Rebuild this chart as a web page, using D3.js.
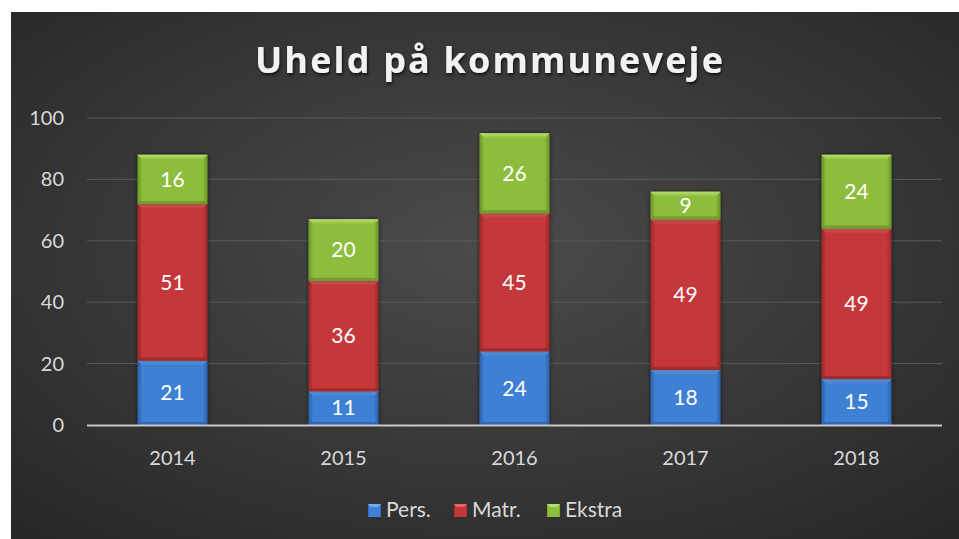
<!DOCTYPE html>
<html>
<head>
<meta charset="utf-8">
<script src="https://cdn.jsdelivr.net/npm/d3@7"></script>
<style>
body { margin: 0; background: #fff; }
svg { display: block; }
text { font-family: Lato, "Open Sans", sans-serif; }
</style>
</head>
<body>
<svg width="959" height="539"></svg>
<script>
var years = ["2014", "2015", "2016", "2017", "2018"];
var pers = [21, 11, 24, 18, 15];
var matr = [51, 36, 45, 49, 49];
var ekstra = [16, 20, 26, 9, 24];
var yTicks = [0, 20, 40, 60, 80, 100];
var seriesNames = ["Pers.", "Matr.", "Ekstra"];

var svg = d3.select("svg"),
	width = +svg.attr("width"),
	height = +svg.attr("height");

var colors = {
	"Pers.": { base: "#3e80d4", light: "#72acf0", dark: "#2a5fa6" },
	"Matr.": { base: "#c4383a", light: "#e4676a", dark: "#982527" },
	"Ekstra": { base: "#8dbd3c", light: "#b8de70", dark: "#6a9326" }
};

var defs = svg.append("defs");

var bg = defs.append("radialGradient")
	.attr("id", "bg")
	.attr("cx", "0.5").attr("cy", "0.45").attr("r", "0.75");
bg.append("stop").attr("offset", "0").attr("stop-color", "#4b4b4b");
bg.append("stop").attr("offset", "1").attr("stop-color", "#262626");

var shadow = defs.append("filter").attr("id", "shadow")
	.attr("x", "-20%").attr("y", "-20%").attr("width", "140%").attr("height", "140%");
shadow.append("feDropShadow")
	.attr("dx", 0).attr("dy", 0).attr("stdDeviation", 2)
	.attr("flood-color", "#000").attr("flood-opacity", 0.6);

var tshadow = defs.append("filter").attr("id", "tshadow")
	.attr("x", "-10%").attr("y", "-30%").attr("width", "120%").attr("height", "160%");
tshadow.append("feDropShadow")
	.attr("dx", 1).attr("dy", 2).attr("stdDeviation", 1.5)
	.attr("flood-color", "#000").attr("flood-opacity", 0.7);

seriesNames.forEach(function(s, i) {
	var g = defs.append("linearGradient").attr("id", "grad" + i)
		.attr("x1", 0).attr("x2", 1).attr("y1", 0).attr("y2", 0);
	g.append("stop").attr("offset", "0").attr("stop-color", colors[s].dark);
	g.append("stop").attr("offset", "0.07").attr("stop-color", colors[s].base);
	g.append("stop").attr("offset", "0.93").attr("stop-color", colors[s].base);
	g.append("stop").attr("offset", "1").attr("stop-color", colors[s].dark);
	var t = defs.append("linearGradient").attr("id", "top" + i)
		.attr("x1", 0).attr("x2", 0).attr("y1", 0).attr("y2", 1);
	t.append("stop").attr("offset", "0").attr("stop-color", colors[s].light);
	t.append("stop").attr("offset", "1").attr("stop-color", colors[s].base);
});

// chart background
svg.append("rect")
	.attr("x", 11).attr("y", 12)
	.attr("width", width - 11).attr("height", height - 12)
	.attr("fill", "url(#bg)");

var margin = { left: 87, right: 17 };

var x = d3.scaleBand()
	.domain(years)
	.range([margin.left, width - margin.right])
	.paddingInner(0.59)
	.paddingOuter(0.295);

var y = d3.scaleLinear()
	.domain([0, 100])
	.range([425, 118]);

// gridlines
svg.append("g")
	.selectAll("line")
	.data(yTicks.filter(function(d) { return d > 0; }))
	.enter().append("line")
	.attr("x1", margin.left).attr("x2", width - margin.right)
	.attr("y1", function(d) { return y(d); })
	.attr("y2", function(d) { return y(d); })
	.attr("stroke", "#5a5a5a")
	.attr("stroke-width", 1);

// y labels
var yAxis = svg.append("g")
	.attr("transform", "translate(" + (margin.left - 23) + ",0)")
	.call(d3.axisLeft(y).tickValues(yTicks).tickSize(0).tickPadding(0));
yAxis.select(".domain").remove();
yAxis.selectAll("text")
	.attr("fill", "#d9d9d9")
	.style("font-size", "20px")
	.style("font-family", "Lato, 'Open Sans', sans-serif");

// stacked data
var table = years.map(function(yr, i) {
	return { year: yr, "Pers.": pers[i], "Matr.": matr[i], "Ekstra": ekstra[i] };
});
var stack = d3.stack().keys(seriesNames)(table);

var bars = svg.append("g");
stack.forEach(function(layer, si) {
	var s = seriesNames[si];
	var g = bars.append("g");
	var seg = g.selectAll("g")
		.data(layer)
		.enter().append("g")
		.attr("transform", function(d) {
			return "translate(" + x(d.data.year) + "," + y(d[1]) + ")";
		});
	seg.append("rect")
		.attr("width", x.bandwidth())
		.attr("height", function(d) { return y(d[0]) - y(d[1]); })
		.attr("fill", "url(#grad" + si + ")")
		.attr("filter", "url(#shadow)");
	// top bevel
	seg.append("path")
		.attr("d", function(d) {
			var w = x.bandwidth(), b = 5;
			return "M0,0L" + w + ",0L" + (w - b) + "," + b + "L" + b + "," + b + "Z";
		})
		.attr("fill", "url(#top" + si + ")");
	// bottom bevel
	seg.append("path")
		.attr("d", function(d) {
			var w = x.bandwidth(), b = 3, h = y(d[0]) - y(d[1]);
			return "M0," + h + "L" + w + "," + h + "L" + (w - b) + "," + (h - b) + "L" + b + "," + (h - b) + "Z";
		})
		.attr("fill", colors[s].dark)
		.attr("opacity", 0.7);
	seg.append("text")
		.attr("x", x.bandwidth() / 2)
		.attr("y", function(d) { return (y(d[0]) - y(d[1])) / 2; })
		.attr("dy", "0.35em")
		.attr("text-anchor", "middle")
		.attr("fill", "#fff")
		.style("font-size", "21px")
		.text(function(d) { return d[1] - d[0]; });
});

// x axis
svg.append("line")
	.attr("x1", margin.left).attr("x2", width - margin.right)
	.attr("y1", 425.5).attr("y2", 425.5)
	.attr("stroke", "#c8c8c8")
	.attr("stroke-width", 2);

svg.append("g")
	.selectAll("text")
	.data(years)
	.enter().append("text")
	.attr("x", function(d) { return x(d) + x.bandwidth() / 2; })
	.attr("y", 465)
	.attr("text-anchor", "middle")
	.attr("fill", "#d9d9d9")
	.style("font-size", "20px")
	.text(function(d) { return d; });

// title
svg.append("text")
	.attr("x", 489)
	.attr("y", 73)
	.attr("text-anchor", "middle")
	.attr("fill", "#f2f2f2")
	.attr("filter", "url(#tshadow)")
	.attr("textLength", 468)
	.attr("lengthAdjust", "spacing")
	.style("font-family", "'Open Sans', Lato, sans-serif")
	.style("font-weight", "bold")
	.style("font-size", "36px")
	.text("Uheld på kommuneveje");

// legend
var legendX = [368, 454, 547];
var legend = svg.append("g");
seriesNames.forEach(function(s, i) {
	var lg = legend.append("g").attr("transform", "translate(" + legendX[i] + ",504)");
	lg.append("rect")
		.attr("width", 13).attr("height", 13)
		.attr("fill", "url(#grad" + i + ")");
	lg.append("path")
		.attr("d", "M0,0L13,0L10,3L3,3Z")
		.attr("fill", colors[s].light);
	lg.append("text")
		.attr("x", 18)
		.attr("y", 13)
		.attr("fill", "#d9d9d9")
		.style("font-size", "21px")
		.text(s);
});
</script>
</body>
</html>
